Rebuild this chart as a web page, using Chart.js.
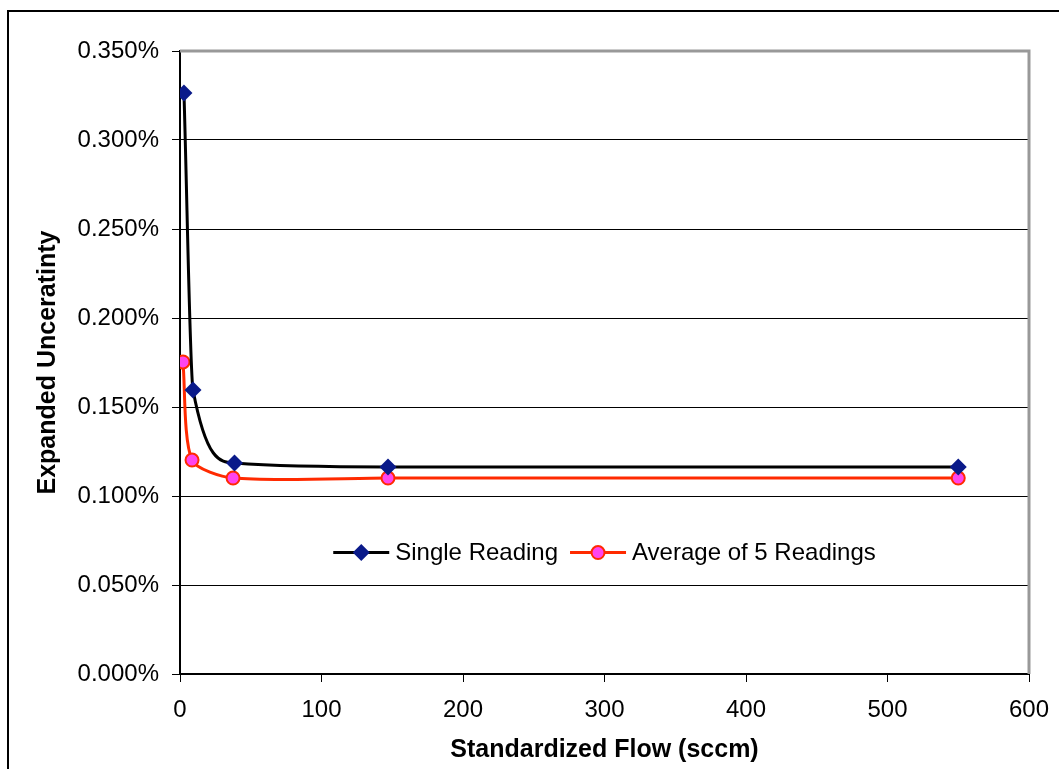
<!DOCTYPE html>
<html>
<head>
<meta charset="utf-8">
<script src="https://cdn.jsdelivr.net/npm/chart.js@4/dist/chart.umd.min.js"></script>
<style>
html,body{margin:0;padding:0;background:#fff;}
#wrap{width:1059px;height:769px;position:relative;}
</style>
</head>
<body>
<div id="wrap"><canvas id="c" width="1059" height="769"></canvas></div>
<script>
// Data (uncertainty in percent)
const flowSingle = [2.8, 9.2, 38.5, 147, 550];
const uncSingle = [0.3264, 0.1596, 0.1185, 0.1163, 0.1163];
const flowAvg = [2.1, 8.5, 37.5, 147, 550];
const uncAvg = [0.1753, 0.1202, 0.1101, 0.1101, 0.1101];
const seriesNames = ['Single Reading', 'Average of 5 Readings'];
const xTitle = 'Standardized Flow (sccm)';
const yTitle = 'Expanded Unceratinty';

const toPts = (xs, ys) => xs.map((x, i) => ({x: x, y: ys[i]}));
const FONT = '"Liberation Sans", Arial, sans-serif';

const frame = {
  id: 'frame',
  beforeDraw(chart) {
    const ctx = chart.ctx;
    ctx.save();
    ctx.fillStyle = '#fff';
    ctx.fillRect(0, 0, chart.width, chart.height);
    ctx.strokeStyle = '#000';
    ctx.lineWidth = 2;
    ctx.strokeRect(8, 11, chart.width + 10, chart.height + 10);
    ctx.restore();
  },
  beforeDatasetsDraw(chart) {
    const ctx = chart.ctx, a = chart.chartArea;
    ctx.save();
    ctx.strokeStyle = '#999';
    ctx.lineWidth = 3;
    ctx.beginPath();
    ctx.moveTo(a.left, a.top);
    ctx.lineTo(a.right, a.top);
    ctx.lineTo(a.right, a.bottom);
    ctx.stroke();
    ctx.restore();
  },
  afterDraw(chart) {
    // legend inside plot area
    const ctx = chart.ctx, a = chart.chartArea;
    ctx.save();
    ctx.font = '24px ' + FONT;
    ctx.textBaseline = 'middle';
    const lineLen = 56, gap = 6, itemGap = 12;
    const w0 = ctx.measureText(seriesNames[0]).width;
    const w1 = ctx.measureText(seriesNames[1]).width;
    const total = lineLen + gap + w0 + itemGap + lineLen + gap + w1;
    let x = (a.left + a.right) / 2 - total / 2;
    const y = a.top + (a.bottom - a.top) * 0.805;
    const ds = chart.data.datasets;
    for (let i = 0; i < 2; i++) {
      const d = ds[i];
      ctx.strokeStyle = d.borderColor;
      ctx.lineWidth = 3;
      ctx.beginPath();
      ctx.moveTo(x, y); ctx.lineTo(x + lineLen, y); ctx.stroke();
      ctx.fillStyle = d.pointBackgroundColor;
      ctx.strokeStyle = d.pointBorderColor;
      ctx.lineWidth = d.pointBorderWidth;
      ctx.beginPath();
      const cx = x + lineLen / 2;
      if (d.pointStyle === 'rectRot') {
        const r = d.pointRadius;
        ctx.moveTo(cx, y - r); ctx.lineTo(cx + r, y); ctx.lineTo(cx, y + r); ctx.lineTo(cx - r, y); ctx.closePath();
      } else {
        ctx.arc(cx, y, d.pointRadius, 0, Math.PI * 2);
      }
      ctx.fill();
      if (d.pointBorderWidth > 0) ctx.stroke();
      ctx.fillStyle = '#000';
      ctx.fillText(seriesNames[i], x + lineLen + gap, y + 1);
      x += lineLen + gap + (i === 0 ? w0 : w1) + itemGap;
    }
    ctx.restore();
  }
};

new Chart(document.getElementById('c'), {
  type: 'scatter',
  data: {
    datasets: [
      {
        label: seriesNames[0],
        data: toPts(flowSingle, uncSingle),
        showLine: true,
        borderColor: '#000000',
        borderWidth: 3,
        cubicInterpolationMode: 'monotone',
        pointStyle: 'rectRot',
        pointRadius: 8.5,
        pointHoverRadius: 8.5,
        pointBackgroundColor: '#0a1a8a',
        pointBorderColor: '#0a1a8a',
        pointBorderWidth: 0
      },
      {
        label: seriesNames[1],
        data: toPts(flowAvg, uncAvg),
        showLine: true,
        borderColor: '#ff2a00',
        borderWidth: 3,
        tension: 0.25,
        pointStyle: 'circle',
        pointRadius: 6.5,
        pointHoverRadius: 6.5,
        pointBackgroundColor: '#ff44ee',
        pointBorderColor: '#ff2a00',
        pointBorderWidth: 2
      }
    ]
  },
  options: {
    responsive: false,
    animation: false,
    events: [],
    layout: {padding: {left: 33, top: 51, right: 30, bottom: 0}},
    plugins: {legend: {display: false}, tooltip: {enabled: false}},
    scales: {
      x: {
        type: 'linear',
        min: 0, max: 600,
        afterFit(s) { s.height = 95; s.paddingRight = 0; s.paddingLeft = 0; },
        ticks: {stepSize: 100, color: '#000', font: {family: FONT, size: 24}, padding: 14, maxRotation: 0},
        grid: {drawOnChartArea: false, drawTicks: true, tickLength: 8, color: '#000', lineWidth: 1},
        border: {color: '#000', width: 2},
        title: {display: true, text: xTitle, color: '#000', font: {family: FONT, size: 25, weight: 'bold'}, padding: {top: 0, bottom: 4}}
      },
      y: {
        type: 'linear',
        min: 0, max: 0.35,
        afterFit(s) { s.width = 147; s.paddingTop = 0; s.paddingBottom = 0; },
        ticks: {stepSize: 0.05, color: '#000', font: {family: FONT, size: 24}, padding: 13,
          callback: v => v.toFixed(3) + '%'},
        grid: {drawTicks: true, tickLength: 8, color: '#000', lineWidth: 1},
        border: {color: '#000', width: 2},
        title: {display: true, text: yTitle, color: '#000', font: {family: FONT, size: 25, weight: 'bold'}, padding: {top: 0, bottom: 0}}
      }
    }
  },
  plugins: [frame]
});
</script>
</body>
</html>
